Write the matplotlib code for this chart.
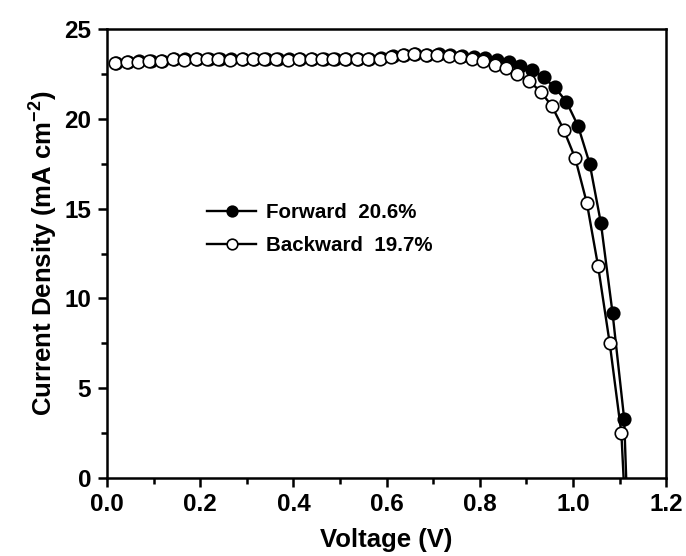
import matplotlib
matplotlib.use("Agg")
import matplotlib.pyplot as plt
from matplotlib.ticker import MultipleLocator

# --- Data ---
V_BACKWARD = [
    0.017, 0.042, 0.066, 0.091, 0.116, 0.141, 0.165, 0.190, 0.215, 0.239,
    0.264, 0.289, 0.313, 0.338, 0.363, 0.388, 0.412, 0.437, 0.462, 0.486,
    0.511, 0.536, 0.560, 0.585, 0.610, 0.635, 0.659, 0.684, 0.709, 0.733,
    0.758, 0.783, 0.807, 0.832, 0.857, 0.881, 0.906, 0.931, 0.955, 0.980,
    1.005, 1.030, 1.054, 1.079, 1.104, 1.128,
]
J_BACKWARD = [
    23.10, 23.15, 23.18, 23.20, 23.22, 23.30, 23.28, 23.30, 23.31, 23.30,
    23.29, 23.30, 23.31, 23.30, 23.30, 23.29, 23.30, 23.31, 23.30, 23.30,
    23.31, 23.30, 23.32, 23.35, 23.45, 23.55, 23.58, 23.55, 23.57, 23.52,
    23.42, 23.35, 23.20, 23.00, 22.80, 22.50, 22.10, 21.50, 20.70, 19.40,
    17.80, 15.30, 11.80, 7.50, 2.50, -10.0,
]

V_FORWARD = [
    0.020, 0.045, 0.069, 0.094, 0.119, 0.144, 0.168, 0.193, 0.218, 0.242,
    0.267, 0.292, 0.316, 0.341, 0.366, 0.391, 0.415, 0.440, 0.465, 0.489,
    0.514, 0.539, 0.563, 0.588, 0.613, 0.638, 0.662, 0.687, 0.712, 0.737,
    0.762, 0.787, 0.812, 0.838, 0.863, 0.887, 0.912, 0.937, 0.961, 0.986,
    1.011, 1.036, 1.060, 1.085, 1.110, 1.134,
]
J_FORWARD = [
    23.12, 23.17, 23.20, 23.22, 23.24, 23.31, 23.30, 23.31, 23.32, 23.31,
    23.30, 23.31, 23.32, 23.31, 23.31, 23.30, 23.31, 23.32, 23.31, 23.31,
    23.32, 23.31, 23.33, 23.37, 23.47, 23.56, 23.59, 23.57, 23.58, 23.56,
    23.50, 23.45, 23.38, 23.28, 23.15, 22.95, 22.70, 22.30, 21.75, 20.95,
    19.60, 17.50, 14.20, 9.20, 3.30, -15.0,
]

LABEL_FORWARD = "Forward  20.6%"
LABEL_BACKWARD = "Backward  19.7%"

plt.rcParams["font.family"] = ["Liberation Sans", "DejaVu Sans"]
plt.rcParams["mathtext.fontset"] = "custom"
plt.rcParams["mathtext.rm"] = "Liberation Sans:bold"
plt.rcParams["mathtext.default"] = "rm"


def make_plot():
    fig = plt.figure(figsize=(6.86, 5.56), dpi=100)
    ax = fig.add_axes([0.156, 0.140, 0.815, 0.808])

    ax.plot(V_FORWARD, J_FORWARD, "-", color="black", lw=1.7,
            marker="o", ms=9, mfc="black", mec="black", mew=1.2,
            label=LABEL_FORWARD, zorder=2)
    ax.plot(V_BACKWARD, J_BACKWARD, "-", color="black", lw=1.7,
            marker="o", ms=9, mfc="white", mec="black", mew=1.2,
            label=LABEL_BACKWARD, zorder=3)

    ax.set_xlim(0.0, 1.2)
    ax.set_ylim(0, 25)
    ax.xaxis.set_major_locator(MultipleLocator(0.2))
    ax.xaxis.set_minor_locator(MultipleLocator(0.1))
    ax.yaxis.set_major_locator(MultipleLocator(5))
    ax.yaxis.set_minor_locator(MultipleLocator(2.5))
    ax.xaxis.set_major_formatter(plt.FuncFormatter(lambda v, p: f"{v:.1f}"))

    for sp in ax.spines.values():
        sp.set_linewidth(1.8)
    ax.tick_params(which="major", direction="out", length=6.5, width=1.8,
                   labelsize=17.5, pad=4, top=False, right=False)
    ax.tick_params(axis="y", which="major", pad=5)
    ax.tick_params(which="minor", direction="out", length=4, width=1.8,
                   top=False, right=False)
    for lbl in ax.get_xticklabels() + ax.get_yticklabels():
        lbl.set_fontweight("bold")

    ax.set_xlabel("Voltage (V)", fontsize=18.5, fontweight="bold", labelpad=9)
    ax.set_ylabel("Current Density (mA cm$^{-2}$)", fontsize=18.5,
                  fontweight="bold", labelpad=3)

    leg = ax.legend(loc="center left", bbox_to_anchor=(0.179, 0.555),
                    frameon=False, fontsize=14.8, borderpad=0, borderaxespad=0,
                    handlelength=2.4, handletextpad=0.45, labelspacing=0.68,
                    markerscale=0.85)
    for t in leg.get_texts():
        t.set_fontweight("bold")

    fig.savefig("out.png", dpi=100)
    plt.close(fig)


if __name__ == "__main__":
    make_plot()
